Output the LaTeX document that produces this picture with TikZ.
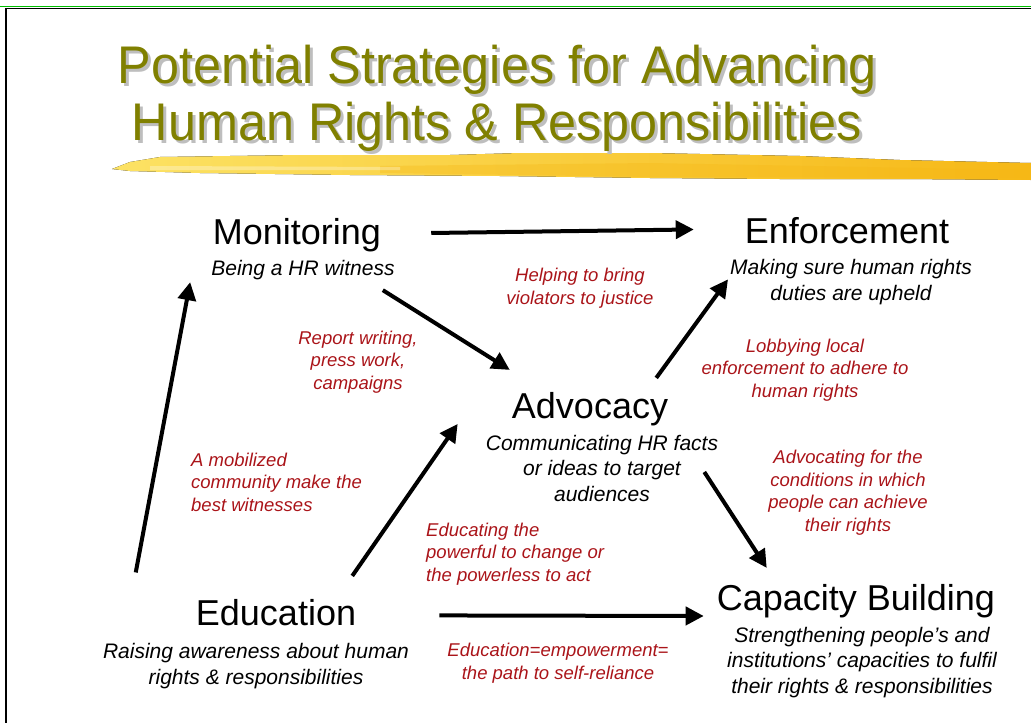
\documentclass[tikz,border=0pt]{standalone}
\usepackage{fontspec}
\setmainfont{Liberation Sans}
\newfontfamily\titlefont[FakeStretch=0.95]{Liberation Sans}
\usetikzlibrary{arrows.meta}
\definecolor{titleolive}{RGB}{128,128,0}
\definecolor{titleshadow}{RGB}{190,190,190}
\definecolor{notered}{RGB}{170,20,25}
\definecolor{brushlight}{RGB}{252,226,100}
\definecolor{brushdark}{RGB}{246,184,22}
\definecolor{framegreen}{RGB}{0,190,0}

\begin{document}
\begin{tikzpicture}[x=1pt, y=-1pt,
    heading/.style={inner sep=0pt, anchor=base, font=\fontsize{36}{40}\selectfont},
    duty/.style={inner sep=0pt, anchor=base, align=center, font=\fontsize{21}{25.5}\selectfont\itshape},
    link/.style={inner sep=0pt, anchor=base, align=center, text=notered, font=\fontsize{18.5}{22.5}\selectfont\itshape},
    headline/.style={inner sep=0pt, anchor=base, align=center, font=\titlefont\fontsize{53}{57}\selectfont},
    flow/.style={line width=4pt, -{Triangle[length=18pt, width=18pt]}}]
    \useasboundingbox (0,0) rectangle (1031,723);
    % slide frame
    \draw[framegreen, line width=1pt] (0,6.5) -- (1031,6.5);
    \draw[line width=1.5pt] (6,723) -- (6,8.5) -- (1031,8.5);

    % brush stroke under the title
    \fill[left color=brushlight, right color=brushdark]
        (112,169) -- (130,162) -- (160,157) -- (300,155) -- (450,155) -- (520,153) -- (650,153)
        -- (800,156) -- (900,160) -- (1031,163) -- (1031,180) -- (900,179) -- (780,179)
        -- (650,178) -- (500,176) -- (350,175) -- (200,173) -- (130,171) -- cycle;
    \fill[brushdark, opacity=0.35] (380,166) -- (650,163) -- (1031,170) -- (1031,178) -- (650,177) -- (380,173) -- cycle;
    \fill[white, opacity=0.3] (150,166) -- (400,167) -- (400,170) -- (150,170) -- cycle;

    % title (base = last line)
    \node[headline, text=titleshadow] (title-shadow) at (500,143) {Potential Strategies for Advancing\\Human Rights \& Responsibilities};
    \node[headline, text=titleolive] (title) at (497,140) {Potential Strategies for Advancing\\Human Rights \& Responsibilities};

    % strategies
    \node[heading] (mon) at (297,244) {Monitoring};
    \node[duty] (mon-sub) at (303,275) {Being a HR witness};
    \node[heading] (enf) at (847,243) {Enforcement};
    \node[duty] (enf-sub) at (851,300) {Making sure human rights\\duties are upheld};
    \node[heading] (adv) at (590,418) {Advocacy};
    \node[duty] (adv-sub) at (602,501) {Communicating HR facts\\or ideas to target\\audiences};
    \node[heading] (edu) at (276,625) {Education};
    \node[duty] (edu-sub) at (256,684) {Raising awareness about human\\rights \& responsibilities};
    \node[heading] (cap) at (856,610) {Capacity Building};
    \node[duty] (cap-sub) at (862,693) {Strengthening people’s and\\institutions’ capacities to fulfil\\their rights \& responsibilities};

    % links between strategies
    \node[link] (l-justice) at (580,304) {Helping to bring\\violators to justice};
    \node[link] (l-report) at (358,389) {Report writing,\\press work,\\campaigns};
    \node[link] (l-lobby) at (805,397) {Lobbying local\\enforcement to adhere to\\human rights};
    \node[link, align=left, anchor=base west] (l-witness) at (191,511) {A mobilized\\community make the\\best witnesses};
    \node[link] (l-conditions) at (848,531) {Advocating for the\\conditions in which\\people can achieve\\their rights};
    \node[link, align=left, anchor=base west] (l-educating) at (426,581) {Educating the\\powerful to change or\\the powerless to act};
    \node[link] (l-empower) at (558,679) {Education=empowerment=\\the path to self-reliance};

    \draw[flow] ([shift={(50,-1.7)}]mon.east) -- ([shift={(-51,-0.7)}]enf.west);
    \draw[flow] ([shift={(-12,10.6)}]mon-sub.south east) -- ([shift={(-2,-21.8)}]adv.north west);
    \draw[flow] ([shift={(-12,-13.8)}]adv.north east) -- ([shift={(-2,20.3)}]enf-sub.north west);
    \draw[flow] ([shift={(-14,4)}]adv-sub.east) -- ([shift={(50,-15.8)}]cap.north west);
    \draw[flow] ([shift={(-60,-39.7)}]edu.west) -- ([shift={(-21,2.6)}]mon-sub.south west);
    \draw[flow] ([shift={(-4,-22.8)}]edu.north east) -- ([shift={(-28,-10.7)}]adv-sub.north west);
    \draw[flow] ([shift={(83,3.3)}]edu.east) -- ([shift={(-13,15.3)}]cap.west);
\end{tikzpicture}
\end{document}
